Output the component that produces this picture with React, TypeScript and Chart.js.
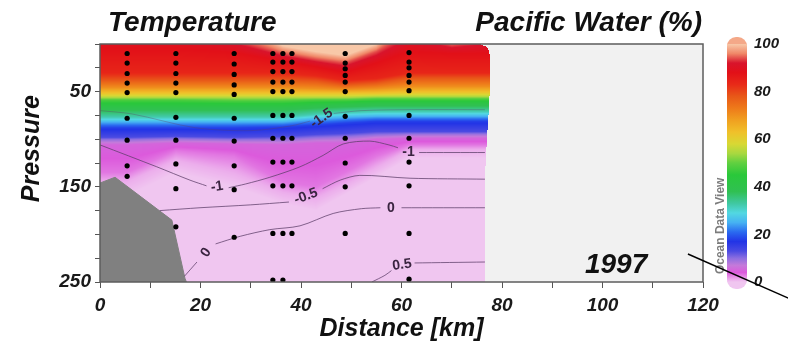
import React, { useEffect, useRef } from "react";
import { Chart, registerables } from "chart.js";
Chart.register(...registerables);

const FONT = "'Liberation Sans', Arial, Helvetica, sans-serif";

// ---------- axes ----------
const xTickLabels = [0, 20, 40, 60, 80, 100, 120];
const yTickLabels = [50, 150, 250];
const cbTickLabels = [0, 20, 40, 60, 80, 100];

// ---------- stations (km) and sample pressures (dbar) ----------
const stationKm = [5.4, 15.1, 26.7, 34.4, 36.4, 38.2, 48.8, 61.5];
const stationP: number[][] = [
  [10, 20, 31, 41, 51, 78, 101, 128, 139],
  [10, 20, 31, 41, 51, 77, 101, 126, 152, 192],
  [10, 21, 32, 43, 53, 78, 102, 128, 153, 203],
  [10, 19, 29, 40, 50, 75, 99, 124, 149, 199, 248],
  [10, 19, 29, 40, 50, 75, 99, 124, 149, 199, 248],
  [10, 19, 29, 40, 50, 75, 99, 124, 149, 199],
  [10, 20, 26, 33, 40, 50, 76, 99, 125, 150, 199],
  [9, 19, 25, 33, 40, 49, 75, 99, 124, 149, 199, 247],
];

// ---------- bottom topography ----------
const bottomKm = [0, 3, 14.3, 16.9, 17.2];
const bottomP = [146, 140, 185, 246, 250];

// ---------- Pacific Water (%) field: depth of each level at each node ----------
const pwLevels = [100, 94, 88, 84, 78, 70, 62, 55, 48, 40, 32, 25, 18, 13, 9, 5, 3, 1, 0];
const fieldKm = [0, 5.4, 15.1, 26.7, 36.4, 43, 48.8, 55, 61.5, 70, 77.6];
const depthsAt0 = [-40, -15, 5, 30, 38, 46, 52, 56, 59, 67, 77, 82, 88, 98, 101, 106, 135, 145, 160];
const depthsAt5 = [-40, -15, 5, 30, 38, 46, 52, 56, 59, 67, 77, 82, 88, 98, 101, 106, 135, 145, 160];
const depthsAt15 = [-40, -15, 5, 30, 38, 46, 52, 56, 59, 67, 77, 82, 88, 97, 100, 104, 112, 122, 135];
const depthsAt27 = [-25, -5, 9, 30, 38, 46, 52, 56, 60, 67, 77, 82, 88, 98, 101, 105, 118, 136, 150];
const depthsAt36 = [2, 10, 18, 30, 38, 46, 52, 56, 60, 67, 77, 82, 87, 97, 101, 106, 145, 156, 168];
const depthsAt43 = [8, 16, 24, 33, 39, 47, 52, 56, 59, 65, 74, 79, 85, 95, 99, 104, 150, 162, 175];
const depthsAt49 = [12, 20, 30, 38, 43, 48, 52, 56, 59, 64, 72, 77, 83, 94, 98, 104, 135, 148, 158];
const depthsAt55 = [0, 8, 20, 36, 41, 47, 52, 55, 58, 63, 71, 76, 81, 92, 96, 100, 118, 130, 140];
const depthsAt62 = [-40, -12, 8, 30, 36, 45, 51, 55, 58, 63, 71, 76, 81, 92, 95, 99, 106, 111, 120];
const depthsAt70 = [-20, 1, 10, 30, 36, 45, 51, 55, 58, 63, 71, 76, 81, 92, 95, 99, 106, 111, 120];
const depthsAt78 = [-40, -5, 10, 30, 36, 45, 51, 55, 58, 63, 71, 76, 81, 92, 95, 99, 106, 111, 120];
const fieldDepths = [depthsAt0, depthsAt5, depthsAt15, depthsAt27, depthsAt36, depthsAt43, depthsAt49, depthsAt55, depthsAt62, depthsAt70, depthsAt78];

// right edge of the gridded field
const edgeP = [0, 3, 6, 10, 16, 60, 100, 140, 250];
const edgeKm = [75.6, 76.9, 77.3, 77.5, 77.6, 77.5, 77.0, 76.6, 76.6];

// ---------- colour scale ----------
const cmapValues = [0, 1.5, 4, 7, 10, 13, 17, 21, 25, 29, 33, 38, 45, 50, 54, 58, 63, 68, 73, 78, 83, 88, 92, 96, 100];
const cmapColors = ['#f0c6f0', '#eaa2ea', '#dc5adc', '#c47ada', '#8c6ee0', '#4a4ae2', '#2234e6', '#2a6af0', '#46b2f2', '#52d8e2', '#40c8a2', '#30c052', '#2ac83a', '#60d040', '#a8d840', '#d8d834', '#f0c02a', '#f0a020', '#ee7a1a', '#e85818', '#e82a18', '#e21018', '#d8142c', '#f08868', '#f8c8a8'];

// ---------- temperature contours (km, dbar); null = gap for label ----------
type Pt = [number, number] | null;
const contourM15: Pt[] = [[0, 70], [6.4, 73.5], [19, 88], [30, 91], [38, 86], [41.8, 81], null, [46.5, 73], [52, 70], [62, 69], [76.6, 69]];
const contourM1: Pt[] = [[0, 106], [11.3, 129], [17.9, 143], [21.2, 149], null, [25.6, 151], [29, 147], [33.8, 140], [39.8, 129], [44.4, 117], [48.4, 105], [53.7, 102], [57.5, 106], [59.3, 109], null, [63.5, 114], [76.6, 114]];
const contourM05: Pt[] = [[11.9, 175], [19.9, 172], [29.9, 169], [37.6, 166], null, [44.3, 152], [47.8, 143], [51.7, 138], [61.7, 141], [76.6, 142]];
const contour0: Pt[] = [[16.8, 244], [19.3, 229], null, [23.0, 210], [27.9, 202], [33.8, 195], [39.8, 191], [46.4, 178], [52, 173], [55.8, 172], null, [60, 172], [76.6, 172]];
const contour05: Pt[] = [[54.1, 250], [56.7, 243], [58.0, 238], null, [62.6, 230], [76.6, 229]];
const contourLabels = [
  { text: "-1.5", km: 44.1, p: 78, angle: -35 },
  { text: "-1", km: 23.3, p: 150, angle: -8 },
  { text: "-1", km: 61.4, p: 114, angle: 0 },
  { text: "-0.5", km: 41.0, p: 160, angle: -20 },
  { text: "0", km: 21.1, p: 219, angle: -55 },
  { text: "0", km: 57.9, p: 172, angle: 0 },
  { text: "0.5", km: 60.1, p: 232, angle: -8 },
];

// ---------- helpers ----------
function hexToRgb(h: string): number[] {
  return [parseInt(h.slice(1, 3), 16), parseInt(h.slice(3, 5), 16), parseInt(h.slice(5, 7), 16)];
}
const cmapRgb = cmapColors.map(hexToRgb);
function pwColor(v: number): number[] {
  if (v <= cmapValues[0]) return cmapRgb[0];
  for (let i = 1; i < cmapValues.length; i++) {
    if (v <= cmapValues[i]) {
      const t = (v - cmapValues[i - 1]) / (cmapValues[i] - cmapValues[i - 1]);
      const a = cmapRgb[i - 1], b = cmapRgb[i];
      return [a[0] + (b[0] - a[0]) * t, a[1] + (b[1] - a[1]) * t, a[2] + (b[2] - a[2]) * t];
    }
  }
  return cmapRgb[cmapRgb.length - 1];
}
function interp1(xs: number[], ys: number[], x: number): number {
  if (x <= xs[0]) return ys[0];
  for (let i = 1; i < xs.length; i++) {
    if (x <= xs[i]) return ys[i - 1] + ((ys[i] - ys[i - 1]) * (x - xs[i - 1])) / (xs[i] - xs[i - 1]);
  }
  return ys[ys.length - 1];
}
function toXY(pts: Pt[]) {
  const out: { x: number; y: number | null }[] = [];
  pts.forEach((p, i) => {
    if (p) out.push({ x: p[0], y: p[1] });
    else {
      const prev = pts[i - 1] as [number, number];
      out.push({ x: prev[0] + 0.01, y: null });
    }
  });
  return out;
}
const f = (size: number, weight = "bold", style = "italic") => `${style} ${weight} ${size}px ${FONT}`;

const fieldPlugin = {
  id: "pwField",
  beforeDatasetsDraw(chart: any) {
    const { ctx, chartArea: ca, scales } = chart;
    const xs = scales.x, ys = scales.y;
    const w = Math.round(ca.right - ca.left), h = Math.round(ca.bottom - ca.top);
    ctx.save();
    ctx.fillStyle = "#f1f1f1";
    ctx.fillRect(ca.left, ca.top, w, h);
    const off = document.createElement("canvas");
    off.width = w; off.height = h;
    const octx = off.getContext("2d")!;
    const img = octx.createImageData(w, h);
    const colKm: number[] = [];
    const colDepths: number[][] = [];
    for (let i = 0; i < w; i++) {
      const km = xs.getValueForPixel(ca.left + i + 0.5);
      colKm.push(km);
      let j = 0;
      while (j < fieldKm.length - 2 && km > fieldKm[j + 1]) j++;
      const t = Math.max(0, Math.min(1, (km - fieldKm[j]) / (fieldKm[j + 1] - fieldKm[j])));
      const a = fieldDepths[j], b = fieldDepths[j + 1];
      colDepths.push(a.map((d, k) => d + (b[k] - d) * t));
    }
    const nL = pwLevels.length;
    for (let r = 0; r < h; r++) {
      const p = ys.getValueForPixel(ca.top + r + 0.5);
      const edge = interp1(edgeP, edgeKm, p);
      for (let i = 0; i < w; i++) {
        if (colKm[i] > edge) continue;
        const d = colDepths[i];
        let v: number;
        if (p <= d[0]) v = pwLevels[0];
        else if (p >= d[nL - 1]) v = pwLevels[nL - 1];
        else {
          let k = 0;
          while (p > d[k + 1]) k++;
          const t = (p - d[k]) / (d[k + 1] - d[k]);
          v = pwLevels[k] + (pwLevels[k + 1] - pwLevels[k]) * t;
        }
        const c = pwColor(v);
        const o = (r * w + i) * 4;
        img.data[o] = c[0]; img.data[o + 1] = c[1]; img.data[o + 2] = c[2]; img.data[o + 3] = 255;
      }
    }
    octx.putImageData(img, 0, 0);
    ctx.beginPath();
    ctx.rect(ca.left, ca.top, w, h);
    ctx.clip();
    ctx.filter = "blur(0.7px)";
    ctx.drawImage(off, ca.left, ca.top);
    ctx.filter = "none";
    ctx.restore();
  },
  afterDatasetsDraw(chart: any) {
    const { ctx, chartArea: ca, scales } = chart;
    const xs = scales.x, ys = scales.y;
    ctx.save();
    ctx.beginPath();
    ctx.rect(ca.left, ca.top, ca.right - ca.left, ca.bottom - ca.top);
    ctx.clip();
    ctx.fillStyle = "#3a2440";
    ctx.font = f(14, "bold", "normal");
    ctx.textAlign = "center";
    ctx.textBaseline = "middle";
    contourLabels.forEach((l) => {
      ctx.save();
      ctx.translate(xs.getPixelForValue(l.km), ys.getPixelForValue(l.p));
      ctx.rotate((l.angle * Math.PI) / 180);
      ctx.fillText(l.text, 0, 0);
      ctx.restore();
    });
    ctx.restore();
    // frame
    ctx.save();
    ctx.strokeStyle = "#5c5c5c";
    ctx.lineWidth = 1.5;
    ctx.strokeRect(ca.left, ca.top, ca.right - ca.left, ca.bottom - ca.top);
    ctx.restore();
  },
  afterDraw(chart: any) {
    const { ctx, chartArea: ca, scales } = chart;
    const xs = scales.x, ys = scales.y, cb = scales.cb;
    ctx.save();
    ctx.fillStyle = "#111";
    ctx.textBaseline = "alphabetic";
    ctx.font = f(28);
    ctx.textAlign = "left";
    ctx.fillText("Temperature", ca.left + 8, ca.top - 13);
    ctx.textAlign = "right";
    ctx.fillText("Pacific Water (%)", ca.right - 1, ca.top - 13);
    // Pressure title
    ctx.save();
    ctx.translate(ca.left - 68, ys.getPixelForValue(110));
    ctx.rotate(-Math.PI / 2);
    ctx.textAlign = "center";
    ctx.textBaseline = "middle";
    ctx.font = f(25);
    ctx.fillText("Pressure", 0, 0);
    ctx.restore();
    // year
    ctx.textAlign = "center";
    ctx.textBaseline = "middle";
    ctx.font = f(28);
    ctx.fillText("1997", xs.getPixelForValue(102.7), ys.getPixelForValue(232));
    // colour bar
    const top = cb.getPixelForValue(100), bot = cb.getPixelForValue(0);
    const bx = cb.left + 24, bw = 20;
    ctx.save();
    ctx.beginPath();
    (ctx as any).roundRect(bx, top - 7, bw, bot - top + 14, 9);
    ctx.clip();
    ctx.fillStyle = "#f4a888";
    ctx.fillRect(bx, top - 8, bw, 9);
    ctx.fillStyle = cmapColors[0];
    ctx.fillRect(bx, bot - 1, bw, 9);
    const g = ctx.createLinearGradient(0, bot, 0, top);
    cmapValues.forEach((v, i) => g.addColorStop(v / 100, cmapColors[i]));
    ctx.fillStyle = g;
    ctx.fillRect(bx, top, bw, bot - top);
    ctx.restore();
    // Ocean Data View
    ctx.save();
    ctx.translate(cb.left + 18, ys.getPixelForValue(191));
    ctx.rotate(-Math.PI / 2);
    ctx.fillStyle = "#7c7c7c";
    ctx.font = f(12, "bold", "normal");
    ctx.textAlign = "center";
    ctx.textBaseline = "middle";
    ctx.fillText("Ocean Data View", 0, 0);
    ctx.restore();
    // pointer line
    ctx.strokeStyle = "#000";
    ctx.lineWidth = 1.4;
    ctx.beginPath();
    ctx.moveTo(xs.getPixelForValue(117), ys.getPixelForValue(220.6));
    ctx.lineTo(xs.getPixelForValue(137), ys.getPixelForValue(267));
    ctx.stroke();
    ctx.restore();
  },
};

export default function App() {
  const ref = useRef<HTMLCanvasElement | null>(null);
  useEffect(() => {
    if (!ref.current) return;
    const dots: { x: number; y: number }[] = [];
    stationKm.forEach((km, i) => stationP[i].forEach((p) => dots.push({ x: km, y: p })));
    const contourStyle = {
      showLine: true,
      borderColor: "rgba(92,62,104,0.75)",
      borderWidth: 1,
      pointRadius: 0,
      tension: 0.3,
      spanGaps: false,
      fill: false,
    };
    const chart = new Chart(ref.current, {
      type: "scatter",
      data: {
        datasets: [
          { label: "stations", data: dots, pointRadius: 2.6, backgroundColor: "#000", borderWidth: 0 } as any,
          { label: "-1.5", data: toXY(contourM15), ...contourStyle, borderColor: "rgba(92,62,104,0.35)" } as any,
          { label: "-1", data: toXY(contourM1), ...contourStyle } as any,
          { label: "-0.5", data: toXY(contourM05), ...contourStyle } as any,
          { label: "0", data: toXY(contour0), ...contourStyle } as any,
          { label: "0.5", data: toXY(contour05), ...contourStyle } as any,
          {
            label: "bottom",
            data: bottomKm.map((x, i) => ({ x, y: bottomP[i] })),
            showLine: true,
            borderColor: "#808080",
            borderWidth: 1,
            backgroundColor: "#808080",
            pointRadius: 0,
            fill: { value: 250 },
          } as any,
        ],
      },
      options: {
        responsive: false,
        animation: false,
        events: [],
        layout: { padding: { top: 44, left: 0, right: 0, bottom: 0 } },
        plugins: { legend: { display: false }, tooltip: { enabled: false } },
        scales: {
          x: {
            type: "linear",
            position: "bottom",
            min: 0,
            max: 120,
            afterFit: (s: any) => { s.height = 72; },
            ticks: {
              stepSize: 10,
              autoSkip: false,
              maxRotation: 0,
              padding: 6,
              color: "#1a1a1a",
              font: { family: FONT, size: 19, weight: "bold", style: "italic" },
              callback: (v: any) => (xTickLabels.includes(Number(v)) ? String(v) : ""),
            },
            grid: { drawOnChartArea: false, drawTicks: true, tickLength: 6, color: "#555" },
            border: { display: false },
            title: {
              display: true,
              text: "Distance [km]",
              color: "#111",
              font: { family: FONT, size: 25, weight: "bold", style: "italic" },
              padding: { top: 0, bottom: 10 },
            },
          },
          y: {
            type: "linear",
            position: "left",
            reverse: true,
            min: 0,
            max: 250,
            afterFit: (s: any) => { s.width = 100; },
            ticks: {
              stepSize: 25,
              autoSkip: false,
              padding: 4,
              color: "#1a1a1a",
              font: { family: FONT, size: 19, weight: "bold", style: "italic" },
              callback: (v: any) => (yTickLabels.includes(Number(v)) ? String(v) : ""),
            },
            grid: { drawOnChartArea: false, drawTicks: true, tickLength: 5, color: "#555" },
            border: { display: false },
          },
          cb: {
            type: "linear",
            position: "right",
            min: 0,
            max: 100,
            afterFit: (s: any) => { s.width = 85; },
            ticks: {
              stepSize: 20,
              autoSkip: false,
              padding: 5,
              color: "#1a1a1a",
              font: { family: FONT, size: 15, weight: "bold", style: "italic" },
              callback: (v: any) => (cbTickLabels.includes(Number(v)) ? String(v) : ""),
            },
            grid: { drawOnChartArea: false, drawTicks: true, tickLength: 46, color: "rgba(0,0,0,0)" },
            border: { display: false },
          },
        },
      } as any,
      plugins: [fieldPlugin],
    });
    return () => chart.destroy();
  }, []);
  return (
    <div style={{ position: "fixed", left: 0, top: 0, width: 788, height: 354, background: "#fff" }}>
      <canvas ref={ref} width={788} height={354} style={{ display: "block" }} />
    </div>
  );
}
